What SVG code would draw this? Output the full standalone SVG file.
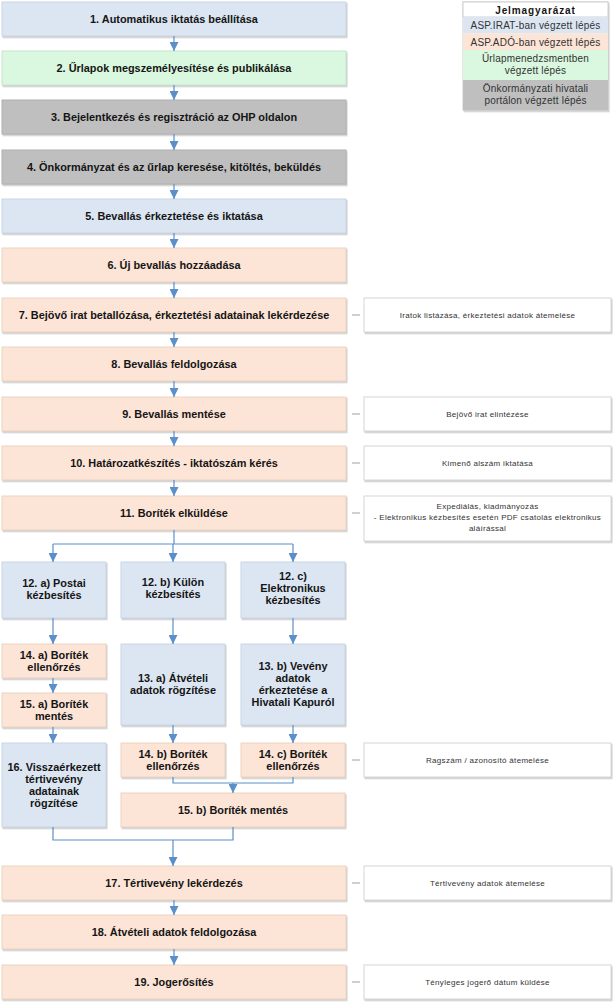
<svg xmlns="http://www.w3.org/2000/svg" width="613" height="1003" viewBox="0 0 613 1003">
<defs>
<filter id="sh" x="-5%" y="-5%" width="110%" height="130%">
<feDropShadow dx="1" dy="1.5" stdDeviation="0.7" flood-color="#8a8a8a" flood-opacity="0.45"/>
</filter>
<marker id="ah" viewBox="0 0 10 10" refX="10" refY="5" markerWidth="9" markerHeight="9" markerUnits="userSpaceOnUse" orient="auto">
<path d="M0,0 L10,5 L0,10 z" fill="#5b8fca"/>
</marker>
<style>
.b{fill:#dce6f2;stroke:#c9d6e6;stroke-width:1;filter:url(#sh)}
.o{fill:#fce4d6;stroke:#ecd3c2;stroke-width:1;filter:url(#sh)}
.g{fill:#daf7df;stroke:#c6e6cc;stroke-width:1;filter:url(#sh)}
.k{fill:#bfbfbf;stroke:#b0b0b0;stroke-width:1;filter:url(#sh)}
.n{fill:#ffffff;stroke:#d6d6d6;stroke-width:1;filter:url(#sh)}
.t{font-family:"Liberation Sans",Arial,sans-serif;font-size:10.9px;font-weight:bold;fill:#151515;text-anchor:middle}
.s{font-family:"Liberation Sans",Arial,sans-serif;font-size:8px;letter-spacing:0.3px;fill:#333333;text-anchor:middle}
.l{font-family:"Liberation Sans",Arial,sans-serif;font-size:10px;letter-spacing:0.2px;fill:#333333;text-anchor:middle}
.lh{font-family:"Liberation Sans",Arial,sans-serif;font-size:10px;letter-spacing:0.9px;font-weight:bold;fill:#151515;text-anchor:middle}
.c{fill:none;stroke:#5b8fca;stroke-width:1.2}
.ca{fill:none;stroke:#5b8fca;stroke-width:1.2;marker-end:url(#ah)}
.d{stroke:#a0a0a0;stroke-width:1}
</style>
</defs>

<g id="legend">
<rect x="463" y="2" width="145" height="108" fill="#ffffff" stroke="#d0d0d0" filter="url(#sh)"/>
<rect x="463" y="2" width="145" height="15" fill="#ffffff" stroke="#d0d0d0"/>
<text class="lh" x="535.5" y="13.5">Jelmagyarázat</text>
<rect x="463" y="17" width="145" height="16.5" fill="#dce6f2"/>
<text class="l" x="535.5" y="29">ASP.IRAT-ban végzett lépés</text>
<rect x="463" y="33.5" width="145" height="16.5" fill="#fce4d6"/>
<text class="l" x="535.5" y="45.5">ASP.ADÓ-ban végzett lépés</text>
<rect x="463" y="50" width="145" height="30" fill="#daf7df"/>
<text class="l" x="535.5" y="62">Űrlapmenedzsmentben</text>
<text class="l" x="535.5" y="74">végzett lépés</text>
<rect x="463" y="80" width="145" height="30" fill="#bfbfbf"/>
<text class="l" x="535.5" y="92">Önkormányzati hivatali</text>
<text class="l" x="535.5" y="104">portálon végzett lépés</text>
</g>

<g id="n1"><rect class="b" x="2" y="2" width="344" height="34"/><text class="t" x="174" y="22.5">1. Automatikus iktatás beállítása</text></g>
<g id="n2"><rect class="g" x="2" y="51" width="344" height="34"/><text class="t" x="174" y="71.5">2. Űrlapok megszemélyesítése és publikálása</text></g>
<g id="n3"><rect class="k" x="2" y="100" width="344" height="34"/><text class="t" x="174" y="120.5">3. Bejelentkezés és regisztráció az OHP oldalon</text></g>
<g id="n4"><rect class="k" x="2" y="150" width="344" height="34"/><text class="t" x="174" y="170.5">4. Önkormányzat és az űrlap keresése, kitöltés, beküldés</text></g>
<g id="n5"><rect class="b" x="2" y="199" width="344" height="34"/><text class="t" x="174" y="219.5">5. Bevallás érkeztetése és iktatása</text></g>
<g id="n6"><rect class="o" x="2" y="248" width="344" height="34"/><text class="t" x="174" y="268.5">6. Új bevallás hozzáadása</text></g>
<g id="n7"><rect class="o" x="2" y="298" width="344" height="34"/><text class="t" x="174" y="318.5">7. Bejövő irat betallózása, érkeztetési adatainak lekérdezése</text></g>
<g id="n8"><rect class="o" x="2" y="347" width="344" height="34"/><text class="t" x="174" y="367.5">8. Bevallás feldolgozása</text></g>
<g id="n9"><rect class="o" x="2" y="397" width="344" height="34"/><text class="t" x="174" y="417.5">9. Bevallás mentése</text></g>
<g id="n10"><rect class="o" x="2" y="446" width="344" height="34"/><text class="t" x="174" y="466.5">10. Határozatkészítés - iktatószám kérés</text></g>
<g id="n11"><rect class="o" x="2" y="496" width="344" height="34"/><text class="t" x="174" y="516.5">11. Boríték elküldése</text></g>

<g id="n12a"><rect class="b" x="2" y="562" width="104" height="56"/><text class="t" x="54" y="587">12. a) Postai</text><text class="t" x="54" y="599">kézbesítés</text></g>
<g id="n12b"><rect class="b" x="121" y="562" width="104" height="56"/><text class="t" x="173" y="586">12. b) Külön</text><text class="t" x="173" y="598">kézbesítés</text></g>
<g id="n12c"><rect class="b" x="241" y="562" width="104" height="56"/><text class="t" x="293" y="580">12. c)</text><text class="t" x="293" y="592">Elektronikus</text><text class="t" x="293" y="604">kézbesítés</text></g>

<g id="n14a"><rect class="o" x="2" y="644" width="104" height="34"/><text class="t" x="54" y="659">14. a) Boríték</text><text class="t" x="54" y="671">ellenőrzés</text></g>
<g id="n15a"><rect class="o" x="2" y="693" width="104" height="34"/><text class="t" x="54" y="708">15. a) Boríték</text><text class="t" x="54" y="720">mentés</text></g>
<g id="n16"><rect class="b" x="2" y="743" width="104" height="84"/><text class="t" x="54" y="771">16. Visszaérkezett</text><text class="t" x="54" y="783">tértivevény</text><text class="t" x="54" y="795">adatainak</text><text class="t" x="54" y="807">rögzítése</text></g>

<g id="n13a"><rect class="b" x="121" y="644" width="104" height="81"/><text class="t" x="173" y="682">13. a) Átvételi</text><text class="t" x="173" y="694">adatok rögzítése</text></g>
<g id="n13b"><rect class="b" x="241" y="644" width="104" height="81"/><text class="t" x="293" y="670">13. b) Vevény</text><text class="t" x="293" y="682">adatok</text><text class="t" x="293" y="694">érkeztetése a</text><text class="t" x="293" y="706">Hivatali Kapuról</text></g>

<g id="n14b"><rect class="o" x="121" y="743" width="104" height="34"/><text class="t" x="173" y="757.5">14. b) Boríték</text><text class="t" x="173" y="769.5">ellenőrzés</text></g>
<g id="n14c"><rect class="o" x="241" y="743" width="104" height="34"/><text class="t" x="293" y="757.5">14. c) Boríték</text><text class="t" x="293" y="769.5">ellenőrzés</text></g>
<g id="n15b"><rect class="o" x="121" y="793" width="224" height="34"/><text class="t" x="233" y="813.5">15. b) Boríték mentés</text></g>

<g id="n17"><rect class="o" x="2" y="866" width="344" height="34"/><text class="t" x="174" y="886.5">17. Tértivevény lekérdezés</text></g>
<g id="n18"><rect class="o" x="2" y="915" width="344" height="34"/><text class="t" x="174" y="935.5">18. Átvételi adatok feldolgozása</text></g>
<g id="n19"><rect class="o" x="2" y="965" width="344" height="34"/><text class="t" x="174" y="985.5">19. Jogerősítés</text></g>

<g id="note7"><rect class="n" x="364" y="298" width="247" height="34"/><text class="s" x="487.5" y="318">Iratok listázása, érkeztetési adatok átemelése</text></g>
<g id="note9"><rect class="n" x="364" y="397" width="247" height="34"/><text class="s" x="487.5" y="417">Bejövő irat elintézése</text></g>
<g id="note10"><rect class="n" x="364" y="446" width="247" height="34"/><text class="s" x="487.5" y="466">Kimenő alszám iktatása</text></g>
<g id="note11"><rect class="n" x="364" y="496" width="247" height="45"/><text class="s" x="487.5" y="509">Expediálás, kiadmányozás</text><text class="s" x="487.5" y="520">- Elektronikus kézbesítés esetén PDF csatolás elektronikus</text><text class="s" x="487.5" y="531">aláírással</text></g>
<g id="noteR"><rect class="n" x="364" y="743" width="247" height="34"/><text class="s" x="487.5" y="763">Ragszám / azonosító átemelése</text></g>
<g id="note17"><rect class="n" x="364" y="866" width="247" height="34"/><text class="s" x="487.5" y="886">Tértivevény adatok átemelése</text></g>
<g id="note19"><rect class="n" x="364" y="965" width="247" height="34"/><text class="s" x="487.5" y="985">Tényleges jogerő dátum küldése</text></g>

<g id="connectors">
<line class="ca" x1="174" y1="36" x2="174" y2="51"/>
<line class="ca" x1="174" y1="85" x2="174" y2="100"/>
<line class="ca" x1="174" y1="134" x2="174" y2="150"/>
<line class="ca" x1="174" y1="184" x2="174" y2="199"/>
<line class="ca" x1="174" y1="233" x2="174" y2="248"/>
<line class="ca" x1="174" y1="282" x2="174" y2="298"/>
<line class="ca" x1="174" y1="332" x2="174" y2="347"/>
<line class="ca" x1="174" y1="381" x2="174" y2="397"/>
<line class="ca" x1="174" y1="431" x2="174" y2="446"/>
<line class="ca" x1="174" y1="480" x2="174" y2="496"/>
<polyline class="c" points="174,530 174,544"/>
<polyline class="c" points="53,544 293,544"/>
<line class="ca" x1="53" y1="544" x2="53" y2="562"/>
<line class="ca" x1="173" y1="544" x2="173" y2="562"/>
<line class="ca" x1="293" y1="544" x2="293" y2="562"/>
<line class="ca" x1="53" y1="618" x2="53" y2="644"/>
<line class="ca" x1="173" y1="618" x2="173" y2="644"/>
<line class="ca" x1="293" y1="618" x2="293" y2="644"/>
<line class="ca" x1="53" y1="678" x2="53" y2="693"/>
<line class="ca" x1="53" y1="727" x2="53" y2="743"/>
<line class="ca" x1="173" y1="725" x2="173" y2="743"/>
<line class="ca" x1="293" y1="725" x2="293" y2="743"/>
<polyline class="c" points="173,777 173,783 293,783 293,777"/>
<line class="ca" x1="233" y1="783" x2="233" y2="793"/>
<polyline class="c" points="53,827 53,840 233,840 233,827"/>
<line class="ca" x1="173" y1="840" x2="173" y2="866"/>
<line class="ca" x1="174" y1="900" x2="174" y2="915"/>
<line class="ca" x1="174" y1="949" x2="174" y2="965"/>
<line class="d" x1="352" y1="315" x2="360" y2="315"/>
<line class="d" x1="352" y1="414" x2="360" y2="414"/>
<line class="d" x1="352" y1="463" x2="360" y2="463"/>
<line class="d" x1="352" y1="513" x2="360" y2="513"/>
<line class="d" x1="352" y1="760" x2="360" y2="760"/>
<line class="d" x1="352" y1="883" x2="360" y2="883"/>
<line class="d" x1="352" y1="982" x2="360" y2="982"/>
</g>
</svg>
